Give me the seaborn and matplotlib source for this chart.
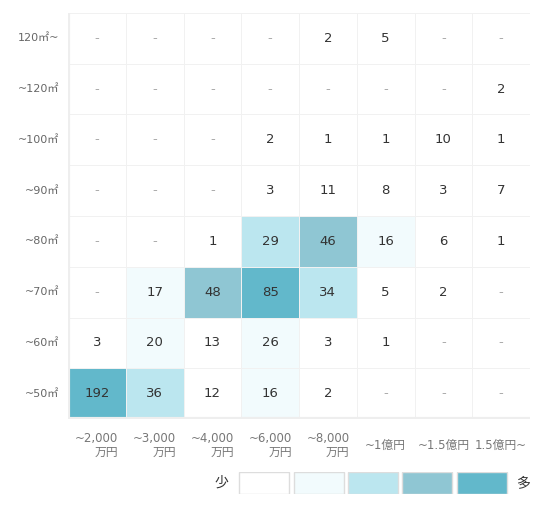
import matplotlib.pyplot as plt
import numpy as np
import pandas as pd
import seaborn as sns
from matplotlib.colors import ListedColormap, BoundaryNorm

# Data
rows = ['120㎡~', '~120㎡', '~100㎡', '~90㎡', '~80㎡', '~70㎡', '~60㎡', '~50㎡']
cols = ['~2,000\n万円', '~3,000\n万円', '~4,000\n万円', '~6,000\n万円',
        '~8,000\n万円', '~1億円', '~1.5億円', '1.5億円~']
# None = no listings ("-")
counts = [
    [None, None, None, None, 2, 5, None, None],
    [None, None, None, None, None, None, None, 2],
    [None, None, None, 2, 1, 1, 10, 1],
    [None, None, None, 3, 11, 8, 3, 7],
    [None, None, 1, 29, 46, 16, 6, 1],
    [None, 17, 48, 85, 34, 5, 2, None],
    [3, 20, 13, 26, 3, 1, None, None],
    [192, 36, 12, 16, 2, None, None, None],
]
bins = [0, 14, 28, 40, 60, 1000]
palette = ['#ffffff', '#f2fbfd', '#bbe6ef', '#8fc6d3', '#62b8cb']

sns.set_theme(style='white')
plt.rcParams['font.family'] = ['DejaVu Sans', 'Noto Sans CJK JP']

df = pd.DataFrame(counts, index=rows, columns=cols, dtype=float)
labels = df.map(lambda v: '-' if pd.isna(v) else str(int(v)))

fig = plt.figure(figsize=(5.45, 5.05), dpi=100)
ax = fig.add_axes([68 / 545, 1 - 419 / 505, 462 / 545, 406 / 505])

cmap = ListedColormap(palette)
norm = BoundaryNorm(bins, cmap.N)
sns.heatmap(df.fillna(0), ax=ax, cmap=cmap, norm=norm, cbar=False,
            annot=labels.values, fmt='', linewidths=0.6, linecolor='#f1f1f1',
            annot_kws={'fontsize': 9.5})

for t in ax.texts:
    t.set_color('#aaaaaa' if t.get_text() == '-' else '#333333')

ax.tick_params(length=0, pad=6)
ax.set_yticklabels(rows, rotation=0, fontsize=8, color='#666666')
ax.set_xticklabels(cols, rotation=0, fontsize=8.5, color='#777777',
                   multialignment='right', linespacing=1.05, va='center')
ax.tick_params(axis='x', pad=19)
ax.set_xlabel('')
ax.set_ylabel('')

# light frame on the left and bottom
ax.axvline(0, color='#eeeeee', lw=3)
ax.axhline(len(rows), color='#eeeeee', lw=3)

# legend boxes
lax = fig.add_axes([237 / 545, 1 - 494 / 505, 272 / 545, 22 / 505])
lax.bar(range(len(palette)), 1, width=0.92, color=palette,
        edgecolor='#dddddd', linewidth=1)
lax.set_xlim(-0.5, len(palette) - 0.5)
lax.set_ylim(0, 1)
lax.axis('off')
fig.text(221 / 545, 1 - 483 / 505, '少', ha='center', va='center',
         fontsize=10, color='#333333')
fig.text(523 / 545, 1 - 483 / 505, '多', ha='center', va='center',
         fontsize=10, color='#333333')

plt.savefig('out.png', dpi=100)
